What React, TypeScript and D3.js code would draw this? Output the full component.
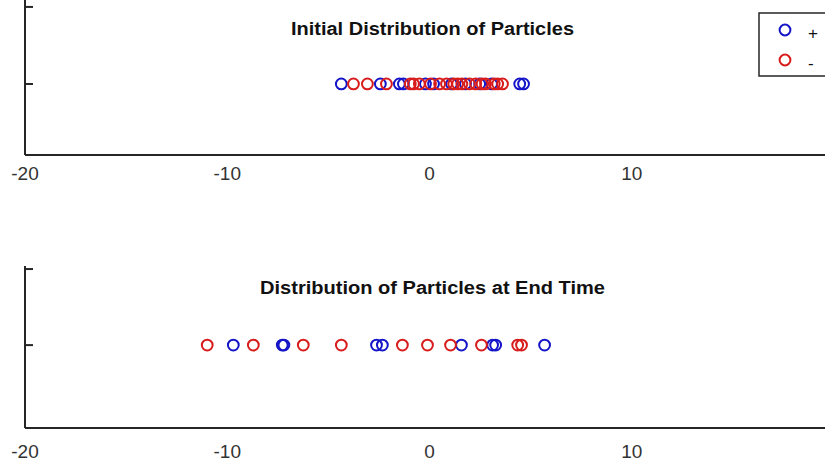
import React from "react";
import * as d3 from "d3";

const xTicks = [-20, -10, 0, 10];
const yTicks = [0, 1];

const initialPlus = [-4.36, -2.43, -1.49, -1.29, -0.2, 0.2, 1.09, 1.78, 2.48, 3.07, 4.46, 4.65];
const initialMinus = [-3.76, -3.07, -2.13, -0.95, -0.79, -0.5, 0.05, 0.5, 0.84, 1.2, 1.39, 1.6, 1.98, 2.28, 2.6, 2.77, 3.2, 3.37, 3.61];
const endPlus = [-9.7, -7.28, -7.2, -2.62, -2.33, 1.58, 3.12, 3.27, 5.69];
const endMinus = [-10.99, -8.71, -6.24, -4.36, -1.34, -0.1, 1.04, 2.57, 4.36, 4.55];

const titles = ["Initial Distribution of Particles", "Distribution of Particles at End Time"];
const titleWidths = [283, 345];
const legendLabels = ["+", "-"];

const BLUE = "#1414c8";
const RED = "#d81c1c";
const AXIS = "#262626";
const FONT = "'Liberation Sans', Arial, Helvetica, sans-serif";

const xScale = d3.scaleLinear().domain([-20, 20]).range([25, 834]);

type PanelProps = {
  title: string;
  titleWidth: number;
  plus: number[];
  minus: number[];
  yDomain: [number, number];
  yRange: [number, number];
  titleY: number;
  labelY: number;
};

function Panel({ title, titleWidth, plus, minus, yDomain, yRange, titleY, labelY }: PanelProps) {
  const y = d3.scaleLinear().domain(yDomain).range(yRange);
  const x0 = xScale(-20);
  const yb = y(yDomain[0]);
  const yt = y(yDomain[1]);
  return (
    <g>
      <line x1={x0} x2={xScale(20)} y1={yb} y2={yb} stroke={AXIS} strokeWidth={2} />
      <line x1={x0} x2={x0} y1={yt} y2={yb} stroke={AXIS} strokeWidth={2} />
      {yTicks.map((t) => (
        <line key={t} x1={x0} x2={x0 + 8} y1={y(t)} y2={y(t)} stroke={AXIS} strokeWidth={2} />
      ))}
      {xTicks.map((t) => (
        <text
          key={t}
          x={xScale(t)}
          y={labelY}
          textAnchor="middle"
          dominantBaseline="central"
          fontFamily={FONT}
          fontSize={19}
          fill="#333"
        >
          {t}
        </text>
      ))}
      <text
        x={xScale(0) + 3}
        y={titleY}
        textAnchor="middle"
        dominantBaseline="central"
        fontFamily={FONT}
        fontSize={18}
        fontWeight="bold"
        fill="#111"
        textLength={titleWidth}
        lengthAdjust="spacingAndGlyphs"
      >
        {title}
      </text>
      {plus.map((v, i) => (
        <circle key={"p" + i} cx={xScale(v)} cy={y(0)} r={5.4} fill="none" stroke={BLUE} strokeWidth={2} />
      ))}
      {minus.map((v, i) => (
        <circle key={"m" + i} cx={xScale(v)} cy={y(0)} r={5.4} fill="none" stroke={RED} strokeWidth={2} />
      ))}
    </g>
  );
}

export default function App() {
  return (
    <svg
      width={825}
      height={462}
      style={{ position: "absolute", left: 0, top: 0, background: "#fff" }}
    >
      <rect x={0} y={0} width={825} height={462} fill="#fff" />
      <Panel
        title={titles[0]}
        titleWidth={titleWidths[0]}
        plus={initialPlus}
        minus={initialMinus}
        yDomain={[-0.922, 1.09]}
        yRange={[155, 0]}
        titleY={29}
        labelY={173}
      />
      <Panel
        title={titles[1]}
        titleWidth={titleWidths[1]}
        plus={endPlus}
        minus={endMinus}
        yDomain={[-1.09, 1.04]}
        yRange={[428, 266]}
        titleY={288}
        labelY={451}
      />
      <g>
        <rect x={759} y={13} width={80} height={63} fill="#fff" stroke={AXIS} strokeWidth={1.5} />
        {legendLabels.map((l, i) => (
          <g key={l}>
            <circle cx={785} cy={30 + i * 30} r={5.4} fill="none" stroke={i === 0 ? BLUE : RED} strokeWidth={2} />
            <text
              x={808}
              y={33 + i * 30}
              dominantBaseline="central"
              fontFamily={FONT}
              fontSize={17}
              fill="#111"
            >
              {l}
            </text>
          </g>
        ))}
      </g>
    </svg>
  );
}
